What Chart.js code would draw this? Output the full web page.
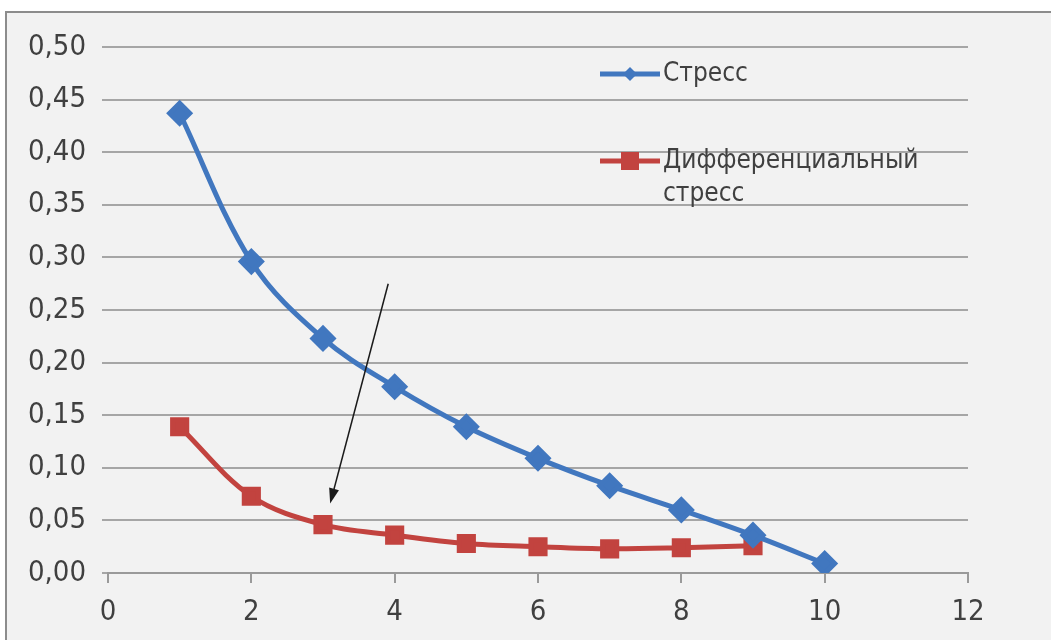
<!DOCTYPE html>
<html>
<head>
<meta charset="utf-8">
<script src="https://cdn.jsdelivr.net/npm/chart.js@4.4.1/dist/chart.umd.min.js"></script>
<style>
  html, body { margin: 0; padding: 0; background: #ffffff; }
  #frame {
    position: absolute; left: 5px; top: 11px; width: 1060px; height: 640px;
    background: #f2f2f2; border: 2px solid #8c8c8c;
  }
  #wrap { position: absolute; left: 0; top: 0; width: 1051px; height: 640px; }
</style>
</head>
<body>
<div id="frame"></div>
<div id="wrap"><canvas id="stressChart" width="1051" height="640"></canvas></div>
<script>
// Stress vs step values
const xValues = [1, 2, 3, 4, 5, 6, 7, 8, 9, 10];
const stress = [0.437, 0.296, 0.223, 0.177, 0.139, 0.109, 0.083, 0.060, 0.036, 0.009];
const diffStress = [0.139, 0.073, 0.046, 0.036, 0.028, 0.025, 0.023, 0.024, 0.026];
const seriesNames = ['Стресс', 'Дифференциальный', 'стресс'];
// arrow annotation: from (x, y) to (x, y) in data units
const arrowFrom = [3.91, 0.275];
const arrowTo = [3.10, 0.066];

const blue = '#4177bf';
const red = '#c2433f';
const font = '"DejaVu Sans Condensed", "Open Sans", sans-serif';

// legend drawn inside the plot, plus the arrow
const overlay = {
  id: 'overlay',
  afterDatasetsDraw(chart) {
    const { ctx, scales: { x, y }, chartArea } = chart;
    ctx.save();
    // arrow
    const x1 = x.getPixelForValue(arrowFrom[0]), y1 = y.getPixelForValue(arrowFrom[1]);
    const x2 = x.getPixelForValue(arrowTo[0]), y2 = y.getPixelForValue(arrowTo[1]);
    const ang = Math.atan2(y2 - y1, x2 - x1);
    ctx.strokeStyle = '#1a1a1a';
    ctx.fillStyle = '#1a1a1a';
    ctx.lineWidth = 1.5;
    ctx.beginPath();
    ctx.moveTo(x1, y1);
    ctx.lineTo(x2 - 12 * Math.cos(ang), y2 - 12 * Math.sin(ang));
    ctx.stroke();
    ctx.beginPath();
    ctx.moveTo(x2, y2);
    ctx.lineTo(x2 - 16 * Math.cos(ang - 0.32), y2 - 16 * Math.sin(ang - 0.32));
    ctx.lineTo(x2 - 16 * Math.cos(ang + 0.32), y2 - 16 * Math.sin(ang + 0.32));
    ctx.closePath();
    ctx.fill();

    // legend
    const lx = chartArea.left + 492;
    const entries = [
      { color: blue, style: 'diamond', top: chartArea.top + 27, lines: [seriesNames[0]] },
      { color: red, style: 'square', top: chartArea.top + 114, lines: [seriesNames[1], seriesNames[2]] }
    ];
    ctx.font = '26px ' + font;
    ctx.textBaseline = 'middle';
    entries.forEach(e => {
      ctx.strokeStyle = e.color;
      ctx.lineWidth = 5;
      ctx.beginPath();
      ctx.moveTo(lx, e.top);
      ctx.lineTo(lx + 60, e.top);
      ctx.stroke();
      ctx.fillStyle = e.color;
      const cx = lx + 30;
      if (e.style === 'diamond') {
        ctx.beginPath();
        ctx.moveTo(cx, e.top - 7);
        ctx.lineTo(cx + 7, e.top);
        ctx.lineTo(cx, e.top + 7);
        ctx.lineTo(cx - 7, e.top);
        ctx.closePath();
        ctx.fill();
      } else {
        ctx.fillRect(cx - 9, e.top - 9, 18, 18);
      }
      ctx.fillStyle = '#404040';
      e.lines.forEach((t, i) => ctx.fillText(t, lx + 63, e.top + i * 33));
    });
    ctx.restore();
  }
};

new Chart(document.getElementById('stressChart'), {
  type: 'scatter',
  data: {
    datasets: [
      {
        label: seriesNames[0],
        data: xValues.map((v, i) => ({ x: v, y: stress[i] })),
        showLine: true,
        borderColor: blue,
        backgroundColor: blue,
        borderWidth: 5,
        tension: 0.35,
        pointStyle: 'rectRot',
        pointRadius: 10,
        pointHoverRadius: 10
      },
      {
        label: seriesNames[1] + ' ' + seriesNames[2],
        data: diffStress.map((v, i) => ({ x: xValues[i], y: v })),
        showLine: true,
        borderColor: red,
        backgroundColor: red,
        borderWidth: 5,
        tension: 0.35,
        pointStyle: 'rect',
        pointRadius: 10,
        pointHoverRadius: 10
      }
    ]
  },
  options: {
    responsive: false,
    animation: false,
    layout: { padding: { top: 47, right: 83, left: 0, bottom: 0 } },
    plugins: {
      legend: { display: false },
      tooltip: { enabled: false }
    },
    scales: {
      x: {
        type: 'linear',
        min: 0,
        max: 12,
        ticks: {
          stepSize: 2,
          color: '#404040',
          font: { family: font, size: 29 },
          padding: 12
        },
        grid: { drawOnChartArea: false, drawTicks: true, tickLength: 10, color: '#9a9a9a', lineWidth: 2 },
        border: { display: true, color: '#9a9a9a', width: 2 },
        afterFit(s) { s.height = 67; }
      },
      y: {
        min: 0,
        max: 0.5,
        ticks: {
          stepSize: 0.05,
          color: '#404040',
          font: { family: font, size: 29 },
          padding: 16,
          callback: v => v.toFixed(2).replace('.', ',')
        },
        grid: { color: '#a6a6a6', lineWidth: 2, drawTicks: true, tickLength: 6 },
        border: { display: false },
        afterFit(s) { s.width = 108; }
      }
    }
  },
  plugins: [overlay]
});
</script>
</body>
</html>
